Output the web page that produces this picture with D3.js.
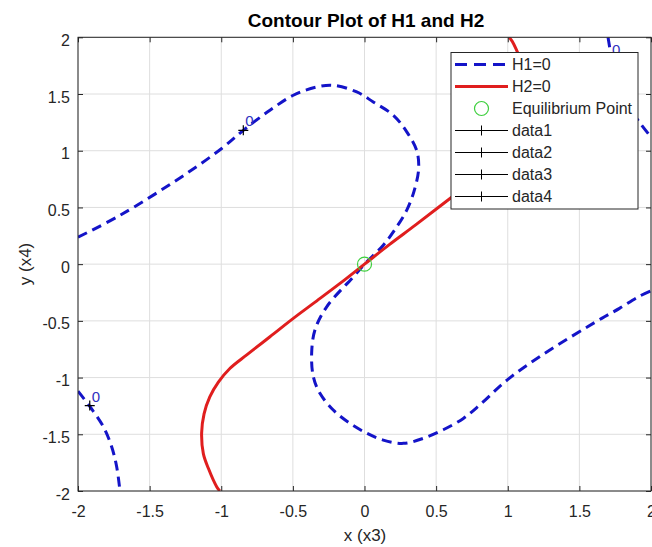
<!DOCTYPE html>
<html>
<head>
<meta charset="utf-8">
<script src="https://d3js.org/d3.v7.min.js"></script>
<style>
  body { margin: 0; background: white; }
  text { font-family: "Liberation Sans", Arial, sans-serif; }
</style>
</head>
<body>
<svg width="652" height="547"></svg>
<script>
// tick values for both axes
var xTicks = [-2, -1.5, -1, -0.5, 0, 0.5, 1, 1.5, 2];
var yTicks = [-2, -1.5, -1, -0.5, 0, 0.5, 1, 1.5, 2];

// H1=0 contour, main branch
var h1Main = [
  [-2.0, 0.238], [-1.707, 0.43], [-1.241, 0.80], [-0.997, 1.02], [-0.846, 1.18],
  [-0.66, 1.357], [-0.497, 1.489], [-0.334, 1.562], [-0.218, 1.577], [-0.054, 1.518],
  [0.061, 1.43], [0.201, 1.313], [0.295, 1.166], [0.364, 1.004], [0.378, 0.84],
  [0.345, 0.64], [0.295, 0.476], [0.225, 0.329], [0.131, 0.167], [0.0, 0.0],
  [-0.078, -0.112], [-0.264, -0.376], [-0.346, -0.581], [-0.369, -0.787], [-0.357, -0.993],
  [-0.311, -1.139], [-0.218, -1.286], [-0.101, -1.404], [0.015, -1.49], [0.131, -1.551],
  [0.271, -1.58], [0.41, -1.536], [0.55, -1.46], [0.69, -1.36], [0.806, -1.24],
  [0.997, -1.02], [1.241, -0.80], [1.656, -0.478], [1.78, -0.39], [1.911, -0.288], [2.0, -0.235]
];
// H1=0, lower left branch
var h1LowerLeft = [
  [-2.0, -1.12], [-1.916, -1.257], [-1.823, -1.433], [-1.765, -1.61], [-1.73, -1.786], [-1.707, -2.0]
];
// H1=0, upper right branch
var h1UpperRight = [
  [1.70, 2.0], [1.73, 1.786], [1.765, 1.61], [1.823, 1.433], [1.916, 1.257], [2.0, 1.12]
];
// H2=0 contour
var h2Curve = [
  [-1.01, -2.0], [-1.032, -1.962], [-1.09, -1.80], [-1.125, -1.67], [-1.137, -1.49],
  [-1.12, -1.32], [-1.08, -1.17], [-1.02, -1.04], [-0.94, -0.92], [-0.822, -0.80],
  [-0.66, -0.64], [-0.497, -0.478], [-0.357, -0.346], [-0.171, -0.17], [0.0, 0.0],
  [0.171, 0.17], [0.357, 0.346], [0.597, 0.579], [0.822, 0.80], [0.94, 0.92],
  [1.02, 1.04], [1.08, 1.17], [1.12, 1.32], [1.137, 1.49], [1.125, 1.67],
  [1.09, 1.80], [1.032, 1.962], [1.01, 2.0]
];
var equilibrium = [[0, 0]];
// clabel '+' markers with their "0" text
var labelPoints = [
  [-0.846, 1.18], [-1.918, -1.247], [1.714, 1.81], [0.962, 0.949]
];
var labelTexts = ["0", "0", "0", "0"];
var legendNames = ["H1=0", "H2=0", "Equilibrium Point", "data1", "data2", "data3", "data4"];

var blue = "#1414c8", red = "#e01e1e", green = "#3ccf3c", axisCol = "#262626";
var pLeft = 78, pTop = 37.3, pRight = 651, pBottom = 491;

var svg = d3.select("svg");
var x = d3.scaleLinear().domain([-2, 2]).range([pLeft, pRight]);
var y = d3.scaleLinear().domain([-2, 2]).range([pBottom, pTop]);

svg.append("rect").attr("width", 652).attr("height", 547).attr("fill", "white");

svg.append("defs").append("clipPath").attr("id", "plotclip")
  .append("rect").attr("x", pLeft).attr("y", pTop)
  .attr("width", pRight - pLeft).attr("height", pBottom - pTop);

// grid
var grid = svg.append("g");
grid.selectAll(".gx").data(xTicks).enter().append("line")
  .attr("x1", function(d) { return x(d); }).attr("x2", function(d) { return x(d); })
  .attr("y1", pTop).attr("y2", pBottom)
  .attr("stroke", "#dedede").attr("stroke-width", 1);
grid.selectAll(".gy").data(yTicks).enter().append("line")
  .attr("y1", function(d) { return y(d); }).attr("y2", function(d) { return y(d); })
  .attr("x1", pLeft).attr("x2", pRight)
  .attr("stroke", "#dedede").attr("stroke-width", 1);

var plot = svg.append("g").attr("clip-path", "url(#plotclip)");
var line = d3.line().x(function(d) { return x(d[0]); }).y(function(d) { return y(d[1]); })
  .curve(d3.curveCatmullRom.alpha(0.5));

[h1Main, h1LowerLeft, h1UpperRight].forEach(function(pts) {
  plot.append("path").attr("d", line(pts)).attr("fill", "none")
    .attr("stroke", blue).attr("stroke-width", 3).attr("stroke-dasharray", "10,6");
});
plot.append("path").attr("d", line(h2Curve)).attr("fill", "none")
  .attr("stroke", red).attr("stroke-width", 3);

plot.selectAll(".eq").data(equilibrium).enter().append("circle")
  .attr("cx", function(d) { return x(d[0]); }).attr("cy", function(d) { return y(d[1]); })
  .attr("r", 7).attr("fill", "none").attr("stroke", green).attr("stroke-width", 1.2);

// + markers and labels
labelPoints.forEach(function(p, i) {
  var px = x(p[0]), py = y(p[1]);
  plot.append("path").attr("d", "M" + (px - 5) + "," + py + "h10M" + px + "," + (py - 5) + "v10")
    .attr("stroke", "black").attr("stroke-width", 1.2);
  plot.append("text").attr("x", px + 2).attr("y", py - 4)
    .attr("font-size", 15).attr("fill", "#3030c0").text(labelTexts[i]);
});

// axes
var xAxis = svg.append("g").attr("transform", "translate(0," + pBottom + ")")
  .call(d3.axisBottom(x).tickValues(xTicks).tickFormat(function(d) { return String(d); })
    .tickSizeInner(-5).tickSizeOuter(0).tickPadding(15));
var xTop = svg.append("g").attr("transform", "translate(0," + pTop + ")")
  .call(d3.axisTop(x).tickValues(xTicks).tickFormat("").tickSizeInner(-5).tickSizeOuter(0));
var yAxis = svg.append("g").attr("transform", "translate(" + pLeft + ",0)")
  .call(d3.axisLeft(y).tickValues(yTicks).tickFormat(function(d) { return String(d); })
    .tickSizeInner(-5).tickSizeOuter(0).tickPadding(8));
var yRight = svg.append("g").attr("transform", "translate(" + pRight + ",0)")
  .call(d3.axisRight(y).tickValues(yTicks).tickFormat("").tickSizeInner(-5).tickSizeOuter(0));

[xAxis, xTop, yAxis, yRight].forEach(function(g) {
  g.select(".domain").remove();
  g.selectAll("line").attr("stroke", axisCol);
  g.selectAll("text").attr("fill", axisCol).attr("font-size", 16)
    .attr("font-family", "Liberation Sans, Arial, sans-serif");
});
yAxis.selectAll("text").attr("dy", "0.5em");

svg.append("rect").attr("x", pLeft).attr("y", pTop)
  .attr("width", pRight - pLeft).attr("height", pBottom - pTop)
  .attr("fill", "none").attr("stroke", axisCol).attr("stroke-width", 1);

// title and labels
svg.append("text").attr("x", 366).attr("y", 27).attr("text-anchor", "middle")
  .attr("font-size", 19).attr("font-weight", "bold").attr("fill", "black")
  .text("Contour Plot of H1 and H2");
svg.append("text").attr("x", 365).attr("y", 541).attr("text-anchor", "middle")
  .attr("font-size", 17).attr("fill", axisCol).text("x (x3)");
svg.append("text").attr("transform", "translate(31,264) rotate(-90)").attr("text-anchor", "middle")
  .attr("font-size", 17).attr("fill", axisCol).text("y (x4)");

// legend
var lg = svg.append("g");
var lx = 451, ly = 52.5, lw = 187, lh = 156.5, rowH = 22;
lg.append("rect").attr("x", lx).attr("y", ly).attr("width", lw).attr("height", lh)
  .attr("fill", "white").attr("stroke", axisCol).attr("stroke-width", 1);
legendNames.forEach(function(name, i) {
  var cy = ly + 12 + i * rowH;
  if (i == 0) {
    lg.append("line").attr("x1", 455).attr("x2", 508).attr("y1", cy).attr("y2", cy)
      .attr("stroke", blue).attr("stroke-width", 3).attr("stroke-dasharray", "12,7");
  } else if (i == 1) {
    lg.append("line").attr("x1", 455).attr("x2", 508).attr("y1", cy).attr("y2", cy)
      .attr("stroke", red).attr("stroke-width", 3);
  } else if (i == 2) {
    lg.append("circle").attr("cx", 481.5).attr("cy", cy).attr("r", 7)
      .attr("fill", "none").attr("stroke", green).attr("stroke-width", 1.2);
  } else {
    lg.append("line").attr("x1", 455).attr("x2", 508).attr("y1", cy).attr("y2", cy)
      .attr("stroke", "black").attr("stroke-width", 1);
    lg.append("line").attr("x1", 481.5).attr("x2", 481.5).attr("y1", cy - 5).attr("y2", cy + 5)
      .attr("stroke", "black").attr("stroke-width", 1);
  }
  lg.append("text").attr("x", 512).attr("y", cy + 5.5).attr("font-size", 16)
    .attr("fill", axisCol).text(name);
});
</script>
</body>
</html>
